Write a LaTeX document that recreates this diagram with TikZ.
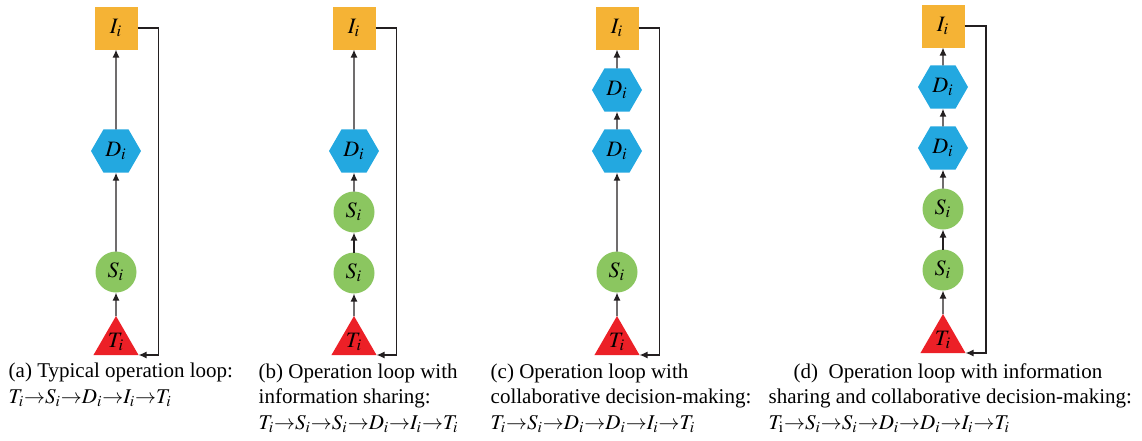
\documentclass[tikz,border=0pt]{standalone}
\usepackage{mathptmx}
\usepackage{fontspec}
\setmainfont{Liberation Serif}
\usetikzlibrary{shapes.geometric,arrows.meta}

\definecolor{infoorange}{RGB}{245,179,53}
\definecolor{decblue}{RGB}{35,168,224}
\definecolor{sensgreen}{RGB}{139,198,96}
\definecolor{taskred}{RGB}{236,32,39}
\definecolor{linegray}{RGB}{35,31,32}

% tight arrow for the loop sequences
\newcommand{\nxt}{{\rightarrow}}

\begin{document}
\begin{tikzpicture}[x=0.5pt,y=-0.5pt,>={Latex[length=4pt,width=3.5pt]},line width=0.7pt]

    \tikzset{
      inode/.style={rectangle, fill=infoorange, minimum size=21.5pt, inner sep=0pt, outer sep=0pt, font=\fontsize{11}{13}\selectfont},
      dnode/.style={regular polygon, regular polygon sides=6, fill=decblue, minimum size=25pt, inner sep=0pt, outer sep=0pt, font=\fontsize{11}{13}\selectfont},
      snode/.style={circle, fill=sensgreen, minimum size=20.5pt, inner sep=0pt, outer sep=0pt, font=\fontsize{11}{13}\selectfont},
      tnode/.style={regular polygon, regular polygon sides=3, fill=taskred, minimum size=26pt, inner sep=0pt, outer sep=0pt, font=\fontsize{11}{13}\selectfont},
      flow/.style={draw=linegray, ->},
      caption/.style={anchor=base west, align=left, inner sep=0pt, font=\fontsize{10.5}{12.6}\selectfont},
    }
    \useasboundingbox (0,0) rectangle (1142,440);

	% (a) typical loop
	\node[inode] (ia) at (116,28) {$I_i$};
	\node[dnode] (da) at (116,151) {$D_i$};
	\node[snode] (sa) at (116,272) {$S_i$};
	\node[tnode] (ta) at (116,342) {$T_i$};
	\draw[flow] (ta) -- (sa);
	\draw[flow] (sa) -- (da);
	\draw[flow] (da) -- (ia);
	\draw[flow] (ia.east) -- ++(21,0) |- (ta.corner 3);
	\node[caption] (capa) at (8,403) {(a) Typical operation loop:\\$T_i\nxt S_i\nxt D_i\nxt I_i\nxt T_i$};

	% (b) information sharing
	\node[inode] (ib) at (354,28) {$I_i$};
	\node[dnode] (db) at (354,151) {$D_i$};
	\node[snode] (sbb) at (354,212) {$S_i$};
	\node[snode] (sb) at (354,273) {$S_i$};
	\node[tnode] (tb) at (354,342) {$T_i$};
	\draw[flow] (tb) -- (sb);
	\draw[flow] (sb) -- (sbb);
	\draw[flow] (sbb) -- (db);
	\draw[flow] (db) -- (ib);
	\draw[flow] (ib.east) -- ++(21,0) |- (tb.corner 3);
	\node[caption] (capb) at (258,429) {(b) Operation loop with\\information sharing:\\$T_i\nxt S_i\nxt S_i\nxt D_i\nxt I_i\nxt T_i$};

	% (c) collaborative decision-making
	\node[inode] (ic) at (617,28) {$I_i$};
	\node[dnode] (dcc) at (617,90) {$D_i$};
	\node[dnode] (dc) at (617,151) {$D_i$};
	\node[snode] (sc) at (617,272) {$S_i$};
	\node[tnode] (tc) at (617,342) {$T_i$};
	\draw[flow] (tc) -- (sc);
	\draw[flow] (sc) -- (dc);
	\draw[flow] (dc) -- (dcc);
	\draw[flow] (dcc) -- (ic);
	\draw[flow] (ic.east) -- ++(21,0) |- (tc.corner 3);
	\node[caption] (capc) at (490,429) {(c) Operation loop with\\collaborative decision-making:\\$T_i\nxt S_i\nxt D_i\nxt D_i\nxt I_i\nxt T_i$};

	% (d) both
	\node[inode] (id) at (943,26) {$I_i$};
	\node[dnode] (ddd) at (943,87) {$D_i$};
	\node[dnode] (dd) at (943,148) {$D_i$};
	\node[snode] (sdd) at (943,209) {$S_i$};
	\node[snode] (sd) at (943,270) {$S_i$};
	\node[tnode] (td) at (943,340) {$T_i$};
	\draw[flow] (td) -- (sd);
	\draw[flow] (sd) -- (sdd);
	\draw[flow] (sdd) -- (dd);
	\draw[flow] (dd) -- (ddd);
	\draw[flow] (ddd) -- (id);
	\draw[flow] (id.east) -- ++(21.5,0) |- (td.corner 3);
	\node[caption] (capd) at (768,429) {\hspace*{12.5pt}(d)~ Operation loop with information\\sharing and collaborative decision-making:\\$T_\mathrm{i}\nxt S_i\nxt S_i\nxt D_i\nxt D_i\nxt I_i\nxt T_i$};

\end{tikzpicture}
\end{document}
